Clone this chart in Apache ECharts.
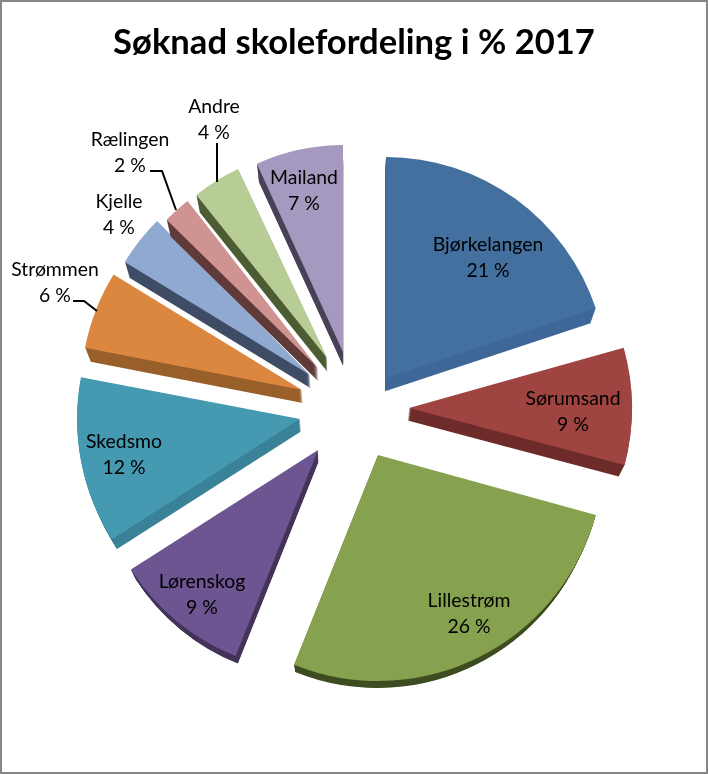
<!DOCTYPE html>
<html>
<head>
<meta charset="utf-8">
<script src="https://cdn.jsdelivr.net/npm/echarts@6/dist/echarts.min.js"></script>
<style>
html,body{margin:0;padding:0;background:#fff}
#frame{position:absolute;left:0;top:0;width:708px;height:774px;box-sizing:border-box;border:2px solid #868686}
#chart{position:absolute;left:0;top:0;width:708px;height:774px}
</style>
</head>
<body>
<div id="frame"></div>
<div id="chart"></div>
<script>
const titleText = 'Søknad skolefordeling i % 2017';
const schools = ['Bjørkelangen','Sørumsand','Lillestrøm','Lørenskog','Skedsmo','Strømmen','Kjelle','Rælingen','Andre','Mailand'];
const shares = [21,9,26,9,12,6,4,2,4,7];

// Look of the slices
const topColors  = ['#44709f','#a04442','#86a24f','#6c5590','#4599b0','#dc873f','#90a9d0','#cf9392','#b8cc96','#a599bf'];
const wallColors = ['#3f6899','#6e2c2b','#3f4e22','#443459','#3a8298','#99602b','#3f4d66','#5f3a39','#4c5c33','#4a4258'];

// Layout of the exploded pie
const pieCentre = [354,413];
const explodeOffsets = [[32,-35],[55,-5],[24,42],[-36,37],[-54,6],[-52,-23],[-44,-38],[-36,-45],[-27,-55],[-11,-61]];
const sliceRadii = [221,223,226,222,223,221,217,212,209,207];
const vanishing = [345,1009];
const depthScale = 0.979;
const depthSteps = 16;
// Perspective lean of each slice's two edges, in degrees
const startLean = [0,-1.3,-2.6,0.2,3.4,3.8,2.6,1.2,0.9,0.6];
const endLean   = [-3.9,-3.2,0.2,3.4,3.6,2.7,2,1.6,0,0];
const labelCentres = [[488,257],[573,411],[469,613],[202,594],[124,454],[55,282],[119,214],[130,152],[214,119],[304,190]];
const leaderLines = {5:[[73,301],[84,301],[97,311]],7:[[150,171],[162,171],[176,210]],8:[[217,143],[217,182]]};

const total = shares.reduce((a,b)=>a+b,0);
let running = 0;
const startFractions = shares.map(v=>{const s=running/total;running+=v;return s;});

function projectAngle(fraction, lean){
  return -Math.PI/2 + fraction*2*Math.PI + lean*Math.PI/180;
}

function renderSlice(params, api){
  const i = params.dataIndex;
  const start = projectAngle(startFractions[i], startLean[i]);
  const end = projectAngle(startFractions[i]+api.value(0)/total, endLean[i]);
  const cx = pieCentre[0]+explodeOffsets[i][0];
  const cy = pieCentre[1]+explodeOffsets[i][1];
  const r = sliceRadii[i];
  const children = [];
  for(let s=depthSteps;s>=0;s--){
    const f = 1-(1-depthScale)*s/depthSteps;
    children.push({
      type:'sector',
      shape:{
        cx:vanishing[0]+(cx-vanishing[0])*f,
        cy:vanishing[1]+(cy-vanishing[1])*f,
        r:r*f,r0:0,startAngle:start,endAngle:end,clockwise:true
      },
      style:{fill:s===0?topColors[i]:wallColors[i]}
    });
  }
  if(leaderLines[i]){
    children.push({type:'polyline',shape:{points:leaderLines[i]},style:{stroke:'#000',lineWidth:2,fill:null},z2:5});
  }
  children.push({
    type:'text',z2:6,
    style:{
      x:labelCentres[i][0],y:labelCentres[i][1]+0.5,
      text:schools[i]+'\n'+api.value(0)+' %',
      align:'center',verticalAlign:'middle',
      font:'19.4px Lato',lineHeight:26,fill:'#000'
    }
  });
  return {type:'group',children};
}

const chart = echarts.init(document.getElementById('chart'),null,{renderer:'canvas'});
chart.setOption({
  animation:false,
  title:{text:titleText,left:'center',top:20,textStyle:{fontFamily:'Lato',fontWeight:'bold',fontSize:34.6,color:'#000'}},
  series:[{
    type:'custom',
    coordinateSystem:'none',
    renderItem:renderSlice,
    data:shares.map(v=>[v]),
    encode:{value:0}
  }]
});
</script>
</body>
</html>
